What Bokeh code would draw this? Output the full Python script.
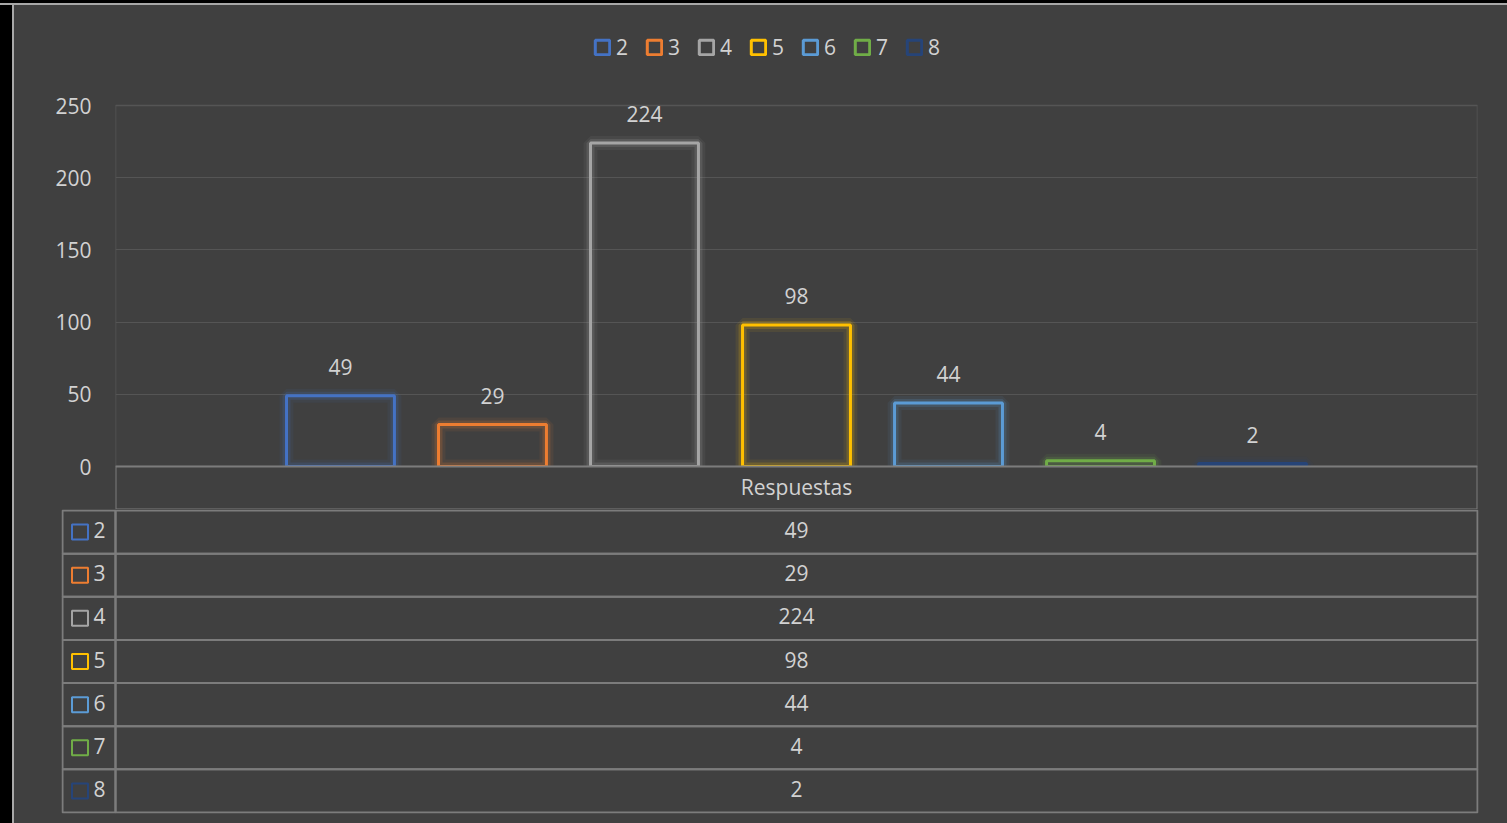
from bokeh.plotting import figure
from bokeh.models import (FactorRange, Range1d, FixedTicker, Div,
                          Legend, LegendItem, ColumnDataSource)
from bokeh.layouts import column, row
from bokeh.core.properties import value
from bokeh.embed import file_html
from bokeh.resources import INLINE

# ---------------- data ----------------
category = "Respuestas"
series = ["2", "3", "4", "5", "6", "7", "8"]
counts = [49, 29, 224, 98, 44, 4, 2]
colors = ["#4472C4", "#ED7D31", "#A5A5A5", "#FFC000", "#5B9BD5", "#70AD47", "#264478"]
y_ticks = [0, 50, 100, 150, 200, 250]

# ---------------- style / layout ----------------
BG = "#404040"
TXT = "#d2d2d2"
GRID = "#555555"
TLINE = "#7c7c7c"
FONT = "Open Sans"
FS = "21px"

PAGE_W, PAGE_H = 1507, 823
OFF_X, OFF_Y = 14, 5          # black desktop strip + chart-area border
W = PAGE_W - OFF_X
PLOT_L = 115                  # page x of plot-area left
PLOT_W = 1362                 # bar plot area width (px)
LABEL_W = 53                  # table label column width (px)
PLOT_T = 105                  # page y of the 250 line
plot_h = 361                  # px from 250 to 0
header_h = 43
table_h = 302

left_border = PLOT_L - OFF_X
right_border = W - left_border - PLOT_W

ymax = 250
ymin = -ymax * header_h / plot_h
ytop = ymax + ymax * (PLOT_T - OFF_Y) / plot_h
top_h = PLOT_T - OFF_Y + plot_h + header_h

factors = [(category, s) for s in series]
src = ColumnDataSource(dict(x=factors, top=counts, color=colors,
                            label=[str(c) for c in counts], series=series))

p = figure(width=W, height=top_h,
           x_range=FactorRange(factors=factors, range_padding=0.28),
           y_range=Range1d(ymin, ytop),
           output_backend="svg", toolbar_location=None, x_axis_location=None,
           min_border_left=left_border, min_border_right=right_border,
           min_border_top=0, min_border_bottom=0,
           background_fill_color=BG, border_fill_color=BG,
           outline_line_color=None, styles={"background-color": BG})
p.frame_align = False

p.yaxis.ticker = FixedTicker(ticks=y_ticks)
p.ygrid.ticker = FixedTicker(ticks=y_ticks)
p.ygrid.grid_line_color = GRID
p.xgrid.visible = False
p.yaxis.axis_line_color = None
p.yaxis.major_tick_line_color = None
p.yaxis.minor_tick_line_color = None
p.yaxis.major_tick_out = 0
p.yaxis.major_tick_in = 0
p.yaxis.major_label_standoff = 24
p.yaxis.major_label_text_color = TXT
p.yaxis.major_label_text_font = FONT
p.yaxis.major_label_text_font_size = FS

# plot-area border
p.rect(x=[category], y=[ymax / 2], width=PLOT_W, width_units="screen", height=ymax,
       fill_alpha=0, line_color=GRID, line_width=1.5)

# glow layers + main outlined bars
p.vbar(x="x", top="top", width=0.71, source=src, fill_alpha=0,
       line_color="color", line_width=14, line_alpha=0.08)
p.vbar(x="x", top="top", width=0.71, source=src, fill_alpha=0,
       line_color="color", line_width=8, line_alpha=0.18)
main = p.vbar(x="x", top="top", width=0.71, source=src, fill_alpha=0,
              line_color="color", line_width=3)

# header row of the data table (covers bar bottoms like Excel)
p.rect(x=[category], y=[ymin / 2], width=PLOT_W, width_units="screen", height=-ymin,
       fill_color=BG, line_color=TLINE, line_width=2)

p.text(x="x", y="top", text="label", source=src, text_align="center",
       text_baseline="middle", y_offset=-29, text_color=TXT,
       text_font=value(FONT), text_font_size=FS)
p.text(x=[category], y=[ymin / 2], text=[category], text_align="center",
       text_baseline="middle", y_offset=-1, text_color=TXT, text_font=value(FONT),
       text_font_size=FS)

legend = Legend(items=[LegendItem(label=s, renderers=[main], index=i)
                       for i, s in enumerate(series)],
                orientation="horizontal", location=(478, 448),
                glyph_width=18, glyph_height=18, label_standoff=5,
                label_width=13, spacing=16, padding=0, margin=0,
                background_fill_alpha=0, border_line_color=None,
                label_text_color=TXT, label_text_font=FONT,
                label_text_font_size=FS)
p.add_layout(legend, "center")

# ---------------- data table ----------------
pad_px = 1.0
pad = pad_px / (table_h / 7)
t_h = PAGE_H - (OFF_Y + top_h)
t = figure(width=W, height=t_h,
           x_range=Range1d(-LABEL_W - 1, PLOT_W + 1),
           y_range=FactorRange(factors=list(reversed(series)), range_padding=pad,
                               range_padding_units="absolute"),
           output_backend="svg", toolbar_location=None,
           x_axis_location=None, y_axis_location=None,
           min_border_left=left_border - LABEL_W - 1, min_border_right=right_border - 1,
           min_border_top=0, min_border_bottom=t_h - table_h - 2,
           background_fill_color=BG, border_fill_color=BG, outline_line_color=None,
           styles={"background-color": BG})
t.frame_align = False
t.grid.visible = False

t.rect(x=PLOT_W / 2, y=series, width=PLOT_W, height=1, fill_alpha=0,
       line_color=TLINE, line_width=2)
t.rect(x=-LABEL_W / 2, y=series, width=LABEL_W, height=1, fill_alpha=0,
       line_color=TLINE, line_width=2)
t.text(x=PLOT_W / 2, y=series, text=[str(c) for c in counts], text_align="center",
       text_baseline="middle", y_offset=-2, text_color=TXT, text_font=value(FONT),
       text_font_size=FS)
t.rect(x=-LABEL_W + 17.5, y=series, width=16, height=15, width_units="screen",
       height_units="screen", fill_alpha=0, line_color=colors, line_width=2)
t.text(x=-LABEL_W + 31, y=series, text=series, text_align="left",
       text_baseline="middle", y_offset=-2, text_color=TXT, text_font=value(FONT),
       text_font_size=FS)

# screenshot surroundings: black desktop strip and light chart-area border
top_strip = Div(text="", width=PAGE_W, height=OFF_Y, margin=0,
                styles={"background": "linear-gradient(#000 0 3px, #a8a8a8 3px 5px)"})
left_strip = Div(text="", width=OFF_X, height=PAGE_H - OFF_Y, margin=0,
                 styles={"background": "linear-gradient(to right, #000 0 12px, #a8a8a8 12px 14px)"})

layout = column(top_strip, row(left_strip, column(p, t, spacing=0), spacing=0), spacing=0)
open("out.html", "w").write(file_html(layout, INLINE))
